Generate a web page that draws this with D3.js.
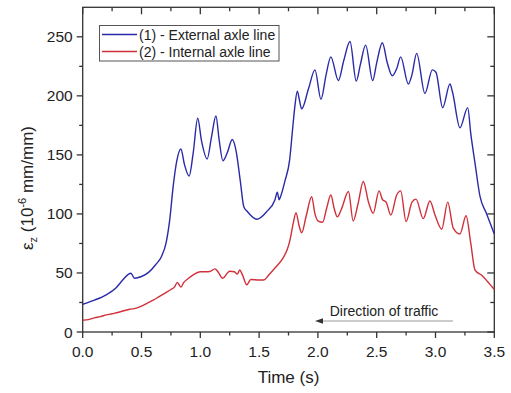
<!DOCTYPE html>
<html><head><meta charset="utf-8">
<script src="https://cdn.jsdelivr.net/npm/d3@7"></script>
<style>body{margin:0;background:#fff}svg{display:block}text{font-family:"Liberation Sans",Arial,sans-serif;fill:#222}</style>
</head><body><svg id="c" width="511" height="393"></svg>
<script>
const xTicks = [0, 0.5, 1.0, 1.5, 2.0, 2.5, 3.0, 3.5];
const yTicks = [0, 50, 100, 150, 200, 250];
const seriesNames = ["(1) - External axle line", "(2) - Internal axle line"];
const seriesColors = ["#2a2aa8", "#d0303a"];
const annotation = "Direction of traffic";

const externalT = [0,0.1,0.2,0.28,0.34,0.39,0.41,0.44,0.5,0.56,0.62,0.67,0.71,0.74,0.77,0.80,0.835,0.865,0.905,0.94,0.978,1.01,1.058,1.095,1.133,1.16,1.192,1.23,1.272,1.305,1.34,1.37,1.40,1.48,1.565,1.635,1.655,1.67,1.68,1.72,1.76,1.785,1.805,1.825,1.84,1.862,1.92,1.975,2.026,2.07,2.11,2.174,2.22,2.273,2.326,2.36,2.406,2.466,2.5,2.548,2.59,2.633,2.67,2.704,2.769,2.80,2.84,2.91,2.973,3.004,3.061,3.123,3.145,3.208,3.274,3.30,3.336,3.378,3.435,3.5];
const externalV = [23.5,27,31.5,37,44,49,49.8,45.5,47,50.5,57,64,76,95,124,145,155,142,132,152,181,162,146.5,165,183,163,145,152,163,153,128,106,102,95.5,102,112,118.5,112,114,128,146,172,192,204,198,189,206,222,197,218,233,213,230,246,212.5,226,243,213,228,245,228,217,223,233,210,218,236,202,222,220,190,210,203,173,190,168,143,115,100,83];

const internalT = [0,0.05,0.1,0.15,0.2,0.25,0.3,0.35,0.4,0.45,0.5,0.55,0.6,0.65,0.7,0.75,0.78,0.805,0.82,0.835,0.86,0.9,0.95,1.0,1.05,1.08,1.125,1.15,1.19,1.25,1.29,1.315,1.335,1.36,1.395,1.43,1.5,1.54,1.58,1.62,1.66,1.706,1.74,1.763,1.79,1.814,1.84,1.862,1.9,1.947,1.975,2.003,2.04,2.075,2.11,2.14,2.165,2.2,2.26,2.3,2.34,2.386,2.43,2.47,2.52,2.55,2.58,2.62,2.67,2.704,2.75,2.8,2.834,2.896,2.953,2.996,3.053,3.104,3.151,3.208,3.26,3.3,3.336,3.393,3.44,3.5];
const internalV = [10,10.5,12,13,14.5,15.5,16.5,18,19.3,20,22,24.5,27,30,33,36,38,42,40,38,42,45.5,49,51,51,51.2,53.5,51,45.5,51.5,51,49,52.5,48,40,44.5,44,44,48,52.5,57,63,70,78,92,101,90,84,98,114.5,100,94,93,105,116,104,97.5,104,119,94,108,127.5,110,100.5,119.5,112,110,99,116,119.5,93.5,110,112.5,96,111,99,87,110,88,83,98.5,75,52.5,48,43,36];

const W = 511, H = 393;
const m = {l: 82.7, r: 16.7, t: 7.3, b: 61};
const svg = d3.select("#c");
const x = d3.scaleLinear().domain([0, 3.5]).range([m.l, W - m.r]);
const y = d3.scaleLinear().domain([0, 275]).range([H - m.b, m.t]);
const x0 = x.range()[0], x1 = x.range()[1], y0 = y.range()[0], y1 = y.range()[1];

const minorX = d3.range(0.25, 3.5, 0.5);
const minorY = d3.range(25, 275, 50);

svg.append("rect").attr("x", x0).attr("y", y1).attr("width", x1 - x0).attr("height", y0 - y1)
  .attr("fill", "none").attr("stroke", "#333").attr("stroke-width", 1.3);

const tk = svg.append("g").attr("stroke", "#333").attr("stroke-width", 1.3);
xTicks.forEach(v => tk.append("line").attr("x1", x(v)).attr("x2", x(v)).attr("y1", y0).attr("y2", y0 + 6));
minorX.forEach(v => tk.append("line").attr("x1", x(v)).attr("x2", x(v)).attr("y1", y0).attr("y2", y0 + 3.5));
xTicks.forEach(v => tk.append("line").attr("x1", x(v)).attr("x2", x(v)).attr("y1", y1).attr("y2", y1 + 7));
minorX.forEach(v => tk.append("line").attr("x1", x(v)).attr("x2", x(v)).attr("y1", y1).attr("y2", y1 + 4));
yTicks.forEach(v => tk.append("line").attr("x1", x0).attr("x2", x0 - 6).attr("y1", y(v)).attr("y2", y(v)));
minorY.forEach(v => tk.append("line").attr("x1", x0).attr("x2", x0 - 3.5).attr("y1", y(v)).attr("y2", y(v)));
yTicks.forEach(v => tk.append("line").attr("x1", x1).attr("x2", x1 - 7).attr("y1", y(v)).attr("y2", y(v)));
minorY.forEach(v => tk.append("line").attr("x1", x1).attr("x2", x1 - 4).attr("y1", y(v)).attr("y2", y(v)));

svg.append("g").selectAll("text").data(xTicks).join("text")
  .attr("x", d => x(d)).attr("y", y0 + 25).attr("text-anchor", "middle")
  .attr("font-size", 15.5).text(d => d3.format(".1f")(d));
svg.append("g").selectAll("text").data(yTicks).join("text")
  .attr("x", x0 - 10).attr("y", d => y(d) + 5.5).attr("text-anchor", "end")
  .attr("font-size", 15.5).text(d => d);

svg.append("text").attr("x", (x0 + x1) / 2).attr("y", 383).attr("text-anchor", "middle")
  .attr("font-size", 17).text("Time (s)");
const yl = svg.append("text").attr("transform", "translate(33,188) rotate(-90)")
  .attr("text-anchor", "middle").attr("font-size", 17);
yl.append("tspan").text("ε");
yl.append("tspan").attr("font-size", 11).attr("dy", 4).text("z");
yl.append("tspan").attr("dy", -4).text(" (10");
yl.append("tspan").attr("font-size", 11).attr("dy", -7).text("-6");
yl.append("tspan").attr("dy", 7).text(" mm/mm)");

const lineSmooth = d3.line().x(d => x(d[0])).y(d => y(d[1])).curve(d3.curveMonotoneX);
const lineRed = d3.line().x(d => x(d[0])).y(d => y(d[1])).curve(d3.curveMonotoneX);
const extData = externalT.map((t, i) => [t, externalV[i]]);
const intData = internalT.map((t, i) => [t, internalV[i]]);
svg.append("path").datum(intData).attr("d", lineRed).attr("fill", "none")
  .attr("stroke", seriesColors[1]).attr("stroke-width", 1.4);
svg.append("path").datum(extData).attr("d", lineSmooth).attr("fill", "none")
  .attr("stroke", seriesColors[0]).attr("stroke-width", 1.4);

const lg = svg.append("g");
lg.append("rect").attr("x", 99.5).attr("y", 25.5).attr("width", 179.5).attr("height", 35.5)
  .attr("fill", "#fff").attr("stroke", "#555").attr("stroke-width", 1);
seriesNames.forEach((n, i) => {
  const yy = 34.5 + i * 17;
  lg.append("line").attr("x1", 102).attr("x2", 137).attr("y1", yy).attr("y2", yy)
    .attr("stroke", seriesColors[i]).attr("stroke-width", 1.4);
  lg.append("text").attr("x", 139).attr("y", yy + 5).attr("font-size", 14).text(n);
});

svg.append("text").attr("x", 384).attr("y", 316).attr("text-anchor", "middle")
  .attr("font-size", 14).text(annotation);
svg.append("line").attr("x1", 453).attr("x2", 320).attr("y1", 321).attr("y2", 321)
  .attr("stroke", "#999").attr("stroke-width", 1.2);
svg.append("path").attr("d", `M315,321 L323,318.2 L323,323.8 Z`).attr("fill", "#333");
</script></body></html>
